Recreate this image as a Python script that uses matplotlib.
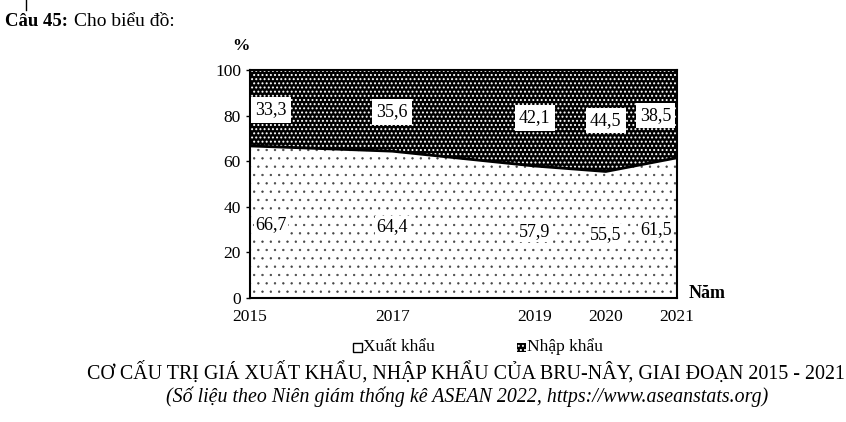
import matplotlib; matplotlib.use("Agg")
import matplotlib.pyplot as plt
from matplotlib.patches import Rectangle

plt.rcParams['font.family'] = ['Liberation Serif', 'DejaVu Serif']

YEARS = [2015, 2017, 2019, 2020, 2021]
EXPORT = [66.7, 64.4, 57.9, 55.5, 61.5]
IMPORT = [33.3, 35.6, 42.1, 44.5, 38.5]
EXPORT_LBL = ["66,7", "64,4", "57,9", "55,5", "61,5"]
IMPORT_LBL = ["33,3", "35,6", "42,1", "44,5", "38,5"]

fig = plt.figure(figsize=(8.46, 4.22), dpi=100)
ax = fig.add_axes([0.2955, 0.2938, 0.5047, 0.5403])

top = [e + i for e, i in zip(EXPORT, IMPORT)]
plt.rcParams['hatch.linewidth'] = 0.45
ax.fill_between(YEARS, 0, EXPORT, facecolor="white", edgecolor="#444444", hatch="..", lw=0)
plt.rcParams['hatch.linewidth'] = 0.9
ax.fill_between(YEARS, EXPORT, top, facecolor="black", edgecolor="white", hatch="....", lw=0)
ax.plot(YEARS, EXPORT, color="black", lw=2)

# label placement (x offsets in years, y in %)
exp_x = [0.3, 0, 0, 0, -0.3]
exp_y = [32, 31.5, 29, 28, 30]
imp_x = [0.3, 0, 0, 0, -0.3]
imp_y = [82.5, 81.6, 79, 78, 80]
for k in range(len(YEARS)):
    ax.text(YEARS[k] + exp_x[k], exp_y[k], EXPORT_LBL[k], ha="center", va="center", fontsize=13,
            bbox=dict(facecolor="white", edgecolor="none", pad=1.0))
    ax.text(YEARS[k] + imp_x[k], imp_y[k], IMPORT_LBL[k], ha="center", va="center", fontsize=13,
            bbox=dict(facecolor="white", edgecolor="none", pad=3.0))

ax.set_xlim(2015, 2021); ax.set_ylim(0, 100)
ax.set_xticks(YEARS); ax.set_yticks(range(0, 101, 20))
ax.tick_params(labelsize=12.5, length=3, width=1)
ax.tick_params(axis="x", length=0, pad=8)
for s in ("left", "bottom", "right", "top"):
    ax.spines[s].set_linewidth(1.5)

ax.text(0.0, 1.07, "%", transform=ax.transAxes, ha="right", va="bottom", fontsize=12.5, fontweight="bold")
ax.text(1.028, 0.02, "Năm", transform=ax.transAxes, ha="left", va="center", fontsize=13, fontweight="bold")

# legend
fig.patches.append(Rectangle((353/846, 1-352/422), 9/846, 9/422, transform=fig.transFigure,
                             facecolor="white", edgecolor="black", lw=1))
fig.text(363/846, 1-347/422, "Xuất khẩu", fontsize=12.5, va="center")
fig.patches.append(Rectangle((517/846, 1-352/422), 9/846, 9/422, transform=fig.transFigure,
                             facecolor="black", edgecolor="white", hatch="....", lw=0))
fig.text(527/846, 1-347/422, "Nhập khẩu", fontsize=12.5, va="center")

fig.text(466/846, 1-372/422, "CƠ CẤU TRỊ GIÁ XUẤT KHẨU, NHẬP KHẨU CỦA BRU-NÂY, GIAI ĐOẠN 2015 - 2021",
         ha="center", va="center", fontsize=14.4)
fig.text(467/846, 1-397/422, "(Số liệu theo Niên giám thống kê ASEAN 2022, https://www.aseanstats.org)",
         ha="center", va="center", fontsize=14.3, style="italic")

fig.text(5/846, 1-22/422, "Câu 45:", fontsize=13.5, fontweight="bold", va="center")
fig.text(74/846, 1-22/422, "Cho biểu đồ:", fontsize=14, va="center")
fig.add_artist(plt.Line2D([26/846, 26/846], [1, 1-10/422], color="black", lw=1))

fig.savefig("out.png", dpi=100)
